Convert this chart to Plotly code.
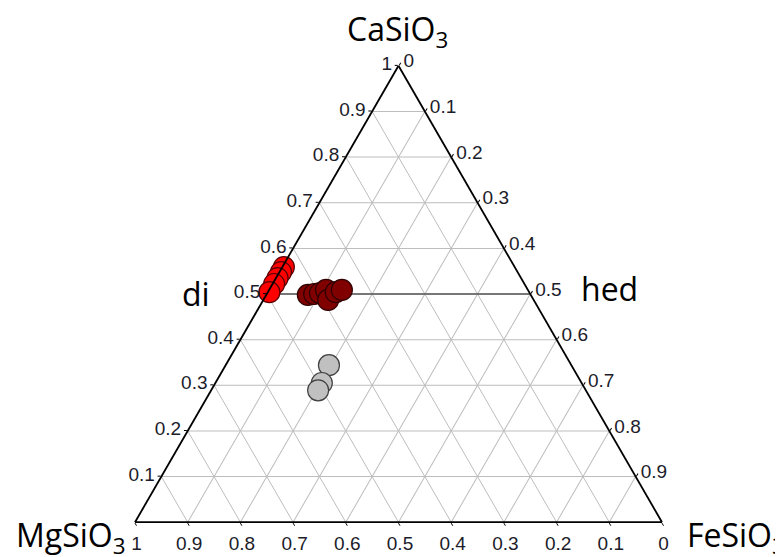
import plotly.graph_objects as go

# CaSiO3 (a), MgSiO3 (b), FeSiO3 (c) fractions
di_ca = [0.559, 0.548, 0.535, 0.522, 0.504]
di_fe = [0.003, 0.003, 0.003, 0.003, 0.003]

mid_ca = [0.498, 0.500, 0.502, 0.509, 0.487, 0.504, 0.509]
mid_fe = [0.079, 0.090, 0.100, 0.108, 0.123, 0.129, 0.138]

gr_ca = [0.344, 0.305, 0.289]
gr_fe = [0.196, 0.202, 0.203]

line_ca = [0.5, 0.5]
line_fe = [0.0, 0.5]

a_ticks = [0.1, 0.2, 0.3, 0.4, 0.5, 0.6, 0.7, 0.8, 0.9, 1]
b_ticks = [0, 0.1, 0.2, 0.3, 0.4, 0.5, 0.6, 0.7, 0.8, 0.9, 1]
c_ticks = [0, 0.1, 0.2, 0.3, 0.4, 0.5, 0.6, 0.7, 0.8, 0.9]


def fmt(v):
    return "0" if v == 0 else ("1" if v == 1 else str(v))


def mg(ca, fe):
    return [round(1 - a - c, 4) for a, c in zip(ca, fe)]


fig = go.Figure()
fig.add_trace(go.Scatterternary(
    a=line_ca, b=mg(line_ca, line_fe), c=line_fe, mode="lines",
    line=dict(color="#555555", width=1.5), hoverinfo="skip", showlegend=False))


def pts(ca, fe, fill, edge):
    fig.add_trace(go.Scatterternary(
        a=ca, b=mg(ca, fe), c=fe, mode="markers", showlegend=False,
        cliponaxis=False,
        marker=dict(size=21, color=fill, line=dict(color=edge, width=1.2))))


pts(di_ca, di_fe, "#ff0000", "#5a0000")
pts(mid_ca, mid_fe, "#800000", "#300000")
pts(gr_ca, gr_fe, "#c0c0c0", "#404040")


def axis(ticks):
    return dict(
        title=dict(text=""),
        tickmode="array", tickvals=ticks, ticktext=[fmt(v) for v in ticks],
        showgrid=True, gridcolor="#bdbdbd", gridwidth=1,
        linecolor="black", linewidth=1.8,
        ticks="outside", ticklen=3, tickcolor="black",
        tickfont=dict(family="Liberation Sans, Arial", size=19, color="#1c1c2a"),
        min=0,
    )


W, H = 783, 557
OFF = 8  # page body margin

fig.update_layout(
    width=W, height=H,
    margin=dict(l=0, r=0, t=0, b=0, autoexpand=False),
    paper_bgcolor="white",
    ternary=dict(
        domain=dict(x=[(135 - OFF) / W, (662 - OFF) / W], y=[0, 0.973]),
        bgcolor="white",
        sum=1,
        aaxis=axis(a_ticks),
        baxis=axis(b_ticks),
        caxis=axis(c_ticks),
    ),
)

title_font = dict(family="Open Sans, Liberation Sans", size=32, color="black")


def label(text, px, py):
    fig.add_annotation(x=(px - OFF) / W, y=1 - (py - OFF) / H, xref="paper", yref="paper",
                       xanchor="center", yanchor="middle",
                       text=text, showarrow=False, font=title_font)


label("CaSiO<sub>3</sub>", 397, 31)
label("MgSiO<sub>3</sub>", 70, 537)
label("FeSiO<sub>3</sub>", 736, 537)
label("di", 196, 293)
label("hed", 609, 288)

fig.write_html("out.html")
